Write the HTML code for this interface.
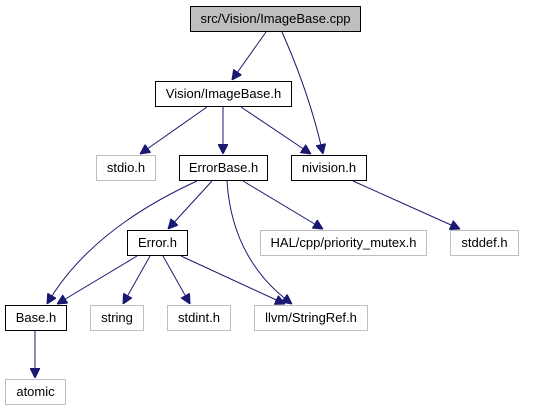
<!DOCTYPE html>
<html><head><style>html,body{margin:0;padding:0;background:#fff;}svg{display:block}</style></head>
<body>
<svg width="535" height="411" viewBox="0 0 535 411" xmlns="http://www.w3.org/2000/svg" font-family="Liberation Sans, sans-serif" font-size="13">
<defs>
<marker id="a" viewBox="0 0 10 10" refX="10" refY="5" markerWidth="10" markerHeight="10" markerUnits="userSpaceOnUse" orient="auto">
<path d="M0,0 L10,5 L0,10 z" fill="#191970" stroke="#191970"/>
</marker>
</defs>
<g fill="none" stroke="#191970" stroke-width="1" marker-end="url(#a)">
<path d="M266,32 L232,80"/>
<path d="M282,32 Q310,95 323,154"/>
<path d="M207,107 L140,154"/>
<path d="M223,107 L223,154"/>
<path d="M241,107 L311,154"/>
<path d="M197,181 Q90,230 47,304"/>
<path d="M212,181 L168,229"/>
<path d="M227,181 Q232,260 292,304"/>
<path d="M243,181 L323,229"/>
<path d="M353,181 L460,229"/>
<path d="M137,256 L57,304"/>
<path d="M150,256 L123,304"/>
<path d="M163,256 L190,304"/>
<path d="M181,256 L285,304"/>
<path d="M35,331 L35,378"/>
</g>
<g stroke-width="1">
<rect x="190.5" y="6.5" width="170" height="25" fill="#bfbfbf" stroke="#000"/>
<rect x="155.5" y="81.5" width="136" height="25" fill="#fff" stroke="#000"/>
<rect x="96.5" y="155.5" width="59" height="25" fill="#fff" stroke="#bfbfbf"/>
<rect x="179.5" y="155.5" width="88" height="25" fill="#fff" stroke="#000"/>
<rect x="291.5" y="155.5" width="75" height="25" fill="#fff" stroke="#000"/>
<rect x="127.5" y="230.5" width="60" height="25" fill="#fff" stroke="#000"/>
<rect x="260.5" y="230.5" width="166" height="25" fill="#fff" stroke="#bfbfbf"/>
<rect x="450.5" y="230.5" width="68" height="25" fill="#fff" stroke="#bfbfbf"/>
<rect x="5.5" y="305.5" width="61" height="25" fill="#fff" stroke="#000"/>
<rect x="90.5" y="305.5" width="53" height="25" fill="#fff" stroke="#bfbfbf"/>
<rect x="167.5" y="305.5" width="63" height="25" fill="#fff" stroke="#bfbfbf"/>
<rect x="254.5" y="305.5" width="113" height="25" fill="#fff" stroke="#bfbfbf"/>
<rect x="5.5" y="379.5" width="60" height="25" fill="#fff" stroke="#bfbfbf"/>
</g>
<g fill="#000" text-anchor="middle">
<text x="275.5" y="23">src/Vision/ImageBase.cpp</text>
<text x="223.5" y="98">Vision/ImageBase.h</text>
<text x="126" y="172">stdio.h</text>
<text x="223.5" y="172">ErrorBase.h</text>
<text x="329" y="172">nivision.h</text>
<text x="157.5" y="247">Error.h</text>
<text x="343.5" y="247">HAL/cpp/priority_mutex.h</text>
<text x="484.5" y="247">stddef.h</text>
<text x="36" y="322">Base.h</text>
<text x="117" y="322">string</text>
<text x="199" y="322">stdint.h</text>
<text x="311" y="322">llvm/StringRef.h</text>
<text x="35.5" y="396">atomic</text>
</g>
</svg>
</body></html>
